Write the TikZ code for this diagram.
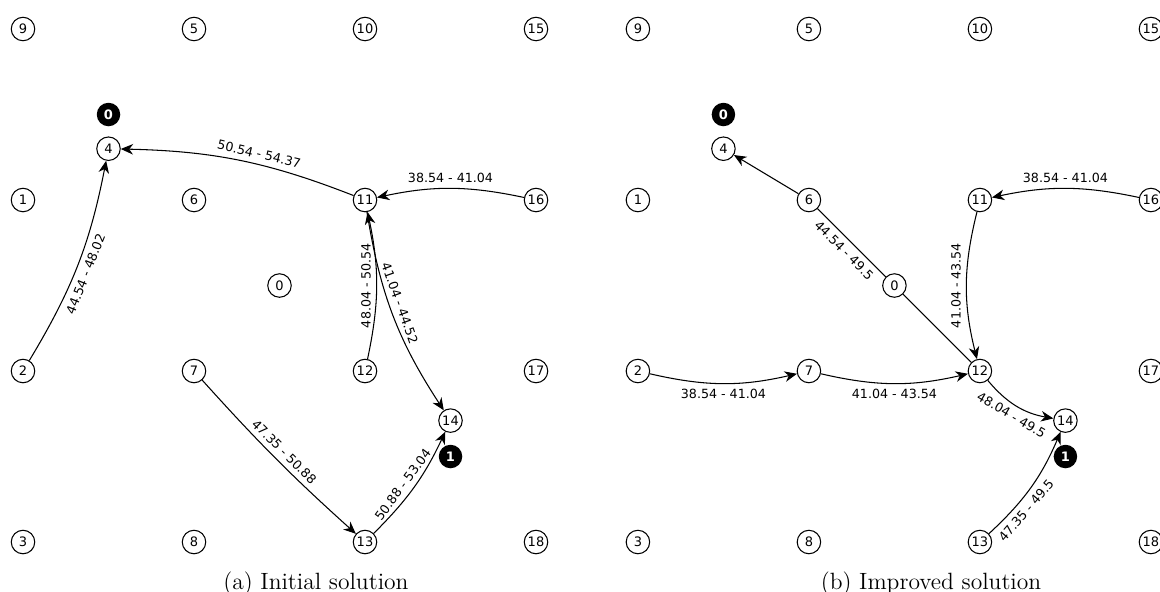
\documentclass[tikz,border=0pt]{standalone}
\usepackage{fontspec}
\usepackage{tikz}
\usetikzlibrary{arrows.meta}
\newfontfamily\graphfont{DejaVu Sans}

\tikzset{
	vtx/.style={circle, draw, line width=0.6pt, minimum size=0.47cm, inner sep=0pt, font=\graphfont\fontsize{7.4}{8}\selectfont},
	agent/.style={circle, fill=black, text=white, minimum size=0.47cm, inner sep=0pt, font=\graphfont\bfseries\fontsize{7.4}{8}\selectfont},
	route/.style={>={Stealth[length=7pt,width=6pt,inset=2.2pt]}, ->, line width=0.6pt},
	tw/.style={font=\graphfont\fontsize{7.2}{8}\selectfont, sloped, inner sep=3pt},
	caption/.style={font=\fontsize{13.4}{16}\selectfont}
}

\begin{document}
\begin{tikzpicture}[x=3.42cm, y=-3.42cm]
	\useasboundingbox (-0.1345,-0.1696) rectangle (6.649,3.292);

	\foreach \n/\c/\r in {9/0/0,5/1/0,10/2/0,15/3/0,1/0/1,6/1/1,11/2/1,16/3/1,2/0/2,7/1/2,12/2/2,17/3/2,3/0/3,8/1/3,13/2/3,18/3/3} {
		\node[vtx] (a\n) at (\c,\r) {\n};
		\node[vtx] (b\n) at (\c+3.596,\r) {\n};
	}

	\node[vtx] (a4) at (0.5,0.7) {4};
	\node[vtx] (a0) at (1.5,1.5) {0};
	\node[vtx] (a14) at (2.5,2.29) {14};
	\node[agent] (ar0) at (0.5,0.5) {0};
	\node[agent] (ar1) at (2.5,2.5) {1};

	\node[vtx] (b4) at (4.096,0.7) {4};
	\node[vtx] (b0) at (5.096,1.5) {0};
	\node[vtx] (b14) at (6.096,2.29) {14};
	\node[agent] (br0) at (4.096,0.5) {0};
	\node[agent] (br1) at (6.096,2.5) {1};

	% initial routes
	\draw[route] (a2) to[bend right=10] node[tw, below, pos=0.47] {44.54 - 48.02} (a4);
	\draw[route] (a11) to[bend right=10] node[tw, above, pos=0.42] {50.54 - 54.37} (a4);
	\draw[route] (a16) to[bend right=12] node[tw, above] {38.54 - 41.04} (a11);
	\draw[route] (a12) to[bend right=12] node[tw, above] {48.04 - 50.54} (a11);
	\draw[route] (a11) to[bend right=12] node[tw, above, pos=0.45] {41.04 - 44.52} (a14);
	\draw[route] (a7) to[bend right=3] node[tw, above] {47.35 - 50.88} (a13);
	\draw[route] (a13) to[bend right=10] node[tw, above, pos=0.45] {50.88 - 53.04} (a14);

	% improved routes
	\draw[line width=0.6pt] (b12) -- (b0);
	\draw[line width=0.6pt] (b0) -- node[tw, below] {44.54 - 49.5} (b6);
	\draw[route] (b6) -- (b4);
	\draw[route] (b16) to[bend right=12] node[tw, above] {38.54 - 41.04} (b11);
	\draw[route, <-] (b12) to[bend left=14] node[tw, above] {41.04 - 43.54} (b11);
	\draw[route] (b2) to[bend right=13] node[tw, below] {38.54 - 41.04} (b7);
	\draw[route] (b7) to[bend right=13] node[tw, below] {41.04 - 43.54} (b12);
	\draw[route] (b12) to[bend right=20] node[tw, below] {48.04 - 49.5} (b14);
	\draw[route] (b13) to[bend right=12] node[tw, below, pos=0.32] {47.35 - 49.5} (b14);

	\node[caption] (capa) at (1.713,3.245) {(a) Initial solution};
	\node[caption] (capb) at (5.31,3.245) {(b) Improved solution};
\end{tikzpicture}
\end{document}
